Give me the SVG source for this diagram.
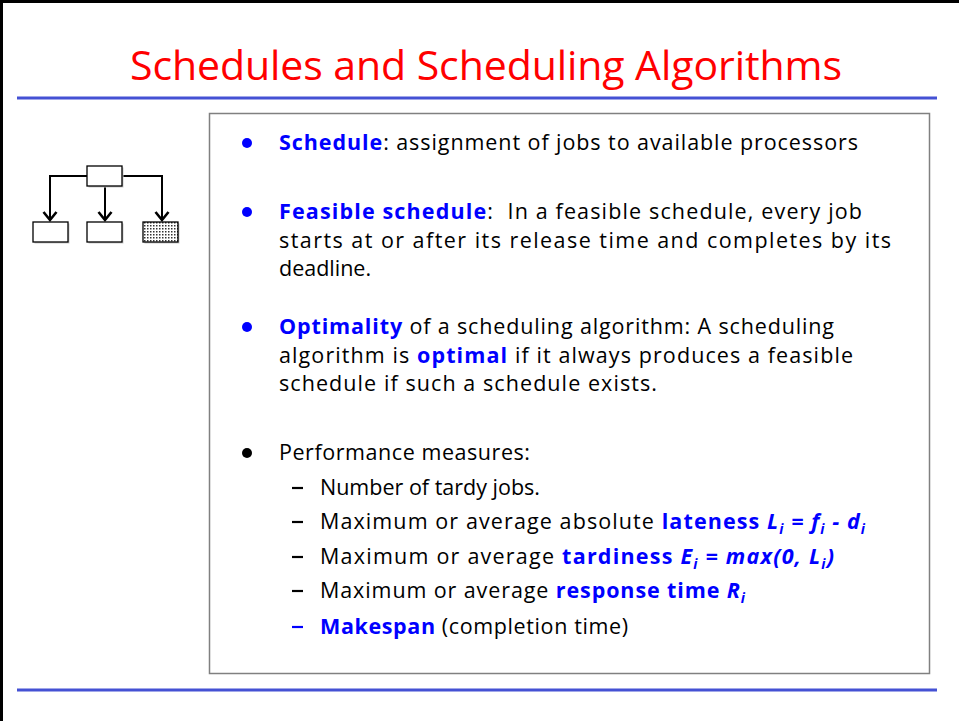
<svg xmlns="http://www.w3.org/2000/svg" width="959" height="721" viewBox="0 0 959 721">
<style>
.t{font-family:"Open Sans","Noto Sans","DejaVu Sans",sans-serif;font-size:21.5px;fill:#000}
.b{font-weight:bold;fill:#0000ff}
.bi{font-weight:bold;font-style:italic;fill:#0000ff}
.title{font-family:"Open Sans","Noto Sans","DejaVu Sans",sans-serif;font-size:41px;fill:#ff0000}
.rule{stroke:#4451d4;stroke-width:3}
.box{fill:#fff;stroke:#000;stroke-width:1.3}
.conn{fill:none;stroke:#000;stroke-width:2}
</style>
<defs>
<marker id="arr" markerUnits="userSpaceOnUse" markerWidth="14" markerHeight="16" refX="11" refY="8" orient="auto" viewBox="0 0 14 16">
<path d="M3,1.5 L11,8 L3,14.5" fill="none" stroke="#000" stroke-width="2.6"/>
</marker>
<pattern id="dots" width="3" height="3" patternUnits="userSpaceOnUse">
<rect width="3" height="3" fill="#fff"/>
<rect width="1.5" height="1.5" fill="#333"/>
</pattern>
</defs>
<rect width="959" height="721" fill="#fff"/>
<path d="M1.5,721 V1.5 H959" fill="none" stroke="#000" stroke-width="3"/>
<g id="title"><text class="title" x="130" y="80" textLength="712">Schedules and Scheduling Algorithms</text></g>
<line class="rule" x1="17" y1="98" x2="937" y2="98"/>
<line class="rule" x1="17" y1="690" x2="937" y2="690"/>
<g id="icon">
<g id="connectors">
<path class="conn" d="M87,176 H50 V220" marker-end="url(#arr)"/>
<path class="conn" d="M105,186 V220" marker-end="url(#arr)"/>
<path class="conn" d="M122,176 H162 V220" marker-end="url(#arr)"/>
</g>
<g id="node-root"><rect x="88.5" y="167.5" width="35" height="20" fill="#ccc"/><rect class="box" x="87" y="166" width="35" height="20"/></g>
<g id="node-a"><rect x="34.5" y="223.5" width="35" height="20" fill="#ccc"/><rect class="box" x="33" y="222" width="35" height="20"/></g>
<g id="node-b"><rect x="88.5" y="223.5" width="35" height="20" fill="#ccc"/><rect class="box" x="87" y="222" width="35" height="20"/></g>
<g id="node-c"><rect x="144.5" y="223.5" width="35" height="20" fill="#ccc"/><rect x="143" y="222" width="35" height="20" fill="url(#dots)" stroke="#000" stroke-width="1.3"/></g>
</g>
<g id="content">
<rect x="209.5" y="113.5" width="720" height="560" fill="#fff" stroke="#808080" stroke-width="1.5"/>
<circle cx="247" cy="143" r="5" fill="#0000ff"/>
<text class="t" x="279" y="150" textLength="579"><tspan class="b">Schedule</tspan>: assignment of jobs to available processors</text>
<circle cx="247" cy="212" r="5" fill="#0000ff"/>
<text class="t" x="279" y="219" textLength="583"><tspan class="b">Feasible schedule</tspan>:&#160; In a feasible schedule, every job</text>
<text class="t" x="279" y="248" textLength="612">starts at or after its release time and completes by its</text>
<text class="t" x="279" y="276">deadline.</text>
<circle cx="247" cy="327" r="5" fill="#0000ff"/>
<text class="t" x="279" y="334" textLength="555"><tspan class="b">Optimality</tspan> of a scheduling algorithm: A scheduling</text>
<text class="t" x="279" y="363" textLength="574">algorithm is <tspan class="b">optimal</tspan> if it always produces a feasible</text>
<text class="t" x="279" y="391" textLength="378">schedule if such a schedule exists.</text>
<circle cx="247" cy="453" r="5" fill="#000"/>
<text class="t" x="279" y="460" textLength="251">Performance measures:</text>
<line x1="292" y1="488" x2="303" y2="488" stroke="#000" stroke-width="2.2"/>
<text class="t" x="320" y="495">Number of tardy jobs.</text>
<line x1="292" y1="522" x2="303" y2="522" stroke="#000" stroke-width="2.2"/>
<text class="t" x="320" y="529" textLength="545">Maximum or average absolute <tspan class="b">lateness </tspan><tspan class="bi">L</tspan><tspan class="bi" font-size="14" dy="5">i</tspan><tspan class="bi" dy="-5"> = f</tspan><tspan class="bi" font-size="14" dy="5">i</tspan><tspan class="bi" dy="-5"> - d</tspan><tspan class="bi" font-size="14" dy="5">i</tspan></text>
<line x1="292" y1="557" x2="303" y2="557" stroke="#000" stroke-width="2.2"/>
<text class="t" x="320" y="564" textLength="514">Maximum or average <tspan class="b">tardiness </tspan><tspan class="bi">E</tspan><tspan class="bi" font-size="14" dy="5">i</tspan><tspan class="bi" dy="-5"> = max(0, L</tspan><tspan class="bi" font-size="14" dy="5">i</tspan><tspan class="bi" dy="-5">)</tspan></text>
<line x1="292" y1="591" x2="303" y2="591" stroke="#000" stroke-width="2.2"/>
<text class="t" x="320" y="598" textLength="425">Maximum or average <tspan class="b">response time </tspan><tspan class="bi">R</tspan><tspan class="bi" font-size="14" dy="5">i</tspan></text>
<line x1="292" y1="627" x2="303" y2="627" stroke="#0000ff" stroke-width="2.2"/>
<text class="t" x="320" y="634" textLength="308"><tspan class="b">Makespan</tspan> (completion time)</text>
</g>
</svg>
